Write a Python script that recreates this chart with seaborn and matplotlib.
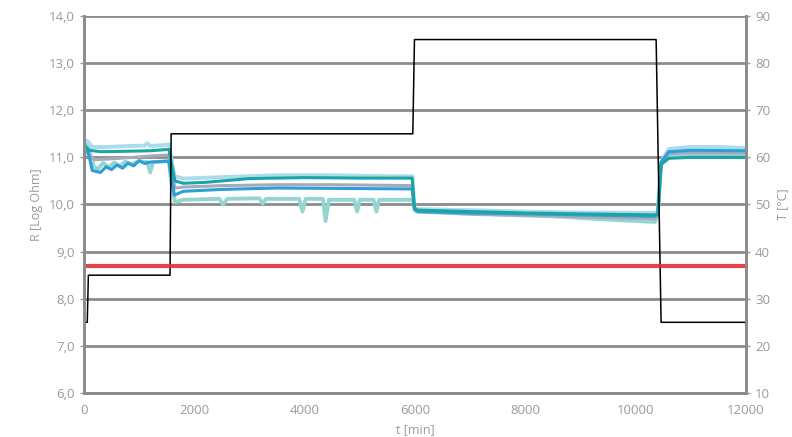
import matplotlib
matplotlib.use("Agg")
import matplotlib.pyplot as plt
import seaborn as sns

# temperature program (T in degC over t in min)
temp_t = [0, 60, 80, 1560, 1580, 5960, 5990, 10370, 10460, 12000]
temp_T = [25, 25, 35, 35, 65, 65, 85, 85, 25, 25]

# resistance curves, log Ohm
s1_t = [0, 60, 150, 400, 800, 1100, 1150, 1200, 1540, 1580, 1640, 1800, 2500, 3500, 4500, 5500, 5950,
        5990, 6050, 7000, 8000, 9000, 10350, 10400, 10460, 10600, 11000, 11500, 12000]
s1_R = [11.3, 11.35, 11.22, 11.22, 11.24, 11.25, 11.3, 11.24, 11.27, 11.0, 10.6, 10.55, 10.58, 10.62, 10.62, 10.6, 10.6,
        9.95, 9.9, 9.88, 9.85, 9.83, 9.82, 9.85, 10.9, 11.18, 11.22, 11.22, 11.2]

s2_t = [0, 100, 300, 800, 1200, 1540, 1580, 1650, 1800, 2200, 3000, 4000, 5000, 5950,
        5990, 6050, 7000, 8000, 9000, 10350, 10400, 10460, 10600, 11000, 11500, 12000]
s2_R = [11.25, 11.15, 11.12, 11.13, 11.14, 11.17, 10.9, 10.5, 10.45, 10.47, 10.55, 10.57, 10.56, 10.56,
        9.92, 9.88, 9.85, 9.82, 9.8, 9.78, 9.8, 10.85, 10.98, 11.0, 11.0, 11.0]

s3_t = [0, 80, 200, 500, 900, 1200, 1540, 1580, 1650, 1800, 2500, 3500, 4500, 5950,
        5990, 6050, 7000, 8000, 9000, 10350, 10400, 10460, 10600, 11000, 12000]
s3_R = [11.2, 11.05, 10.95, 10.97, 11.0, 11.03, 11.05, 10.8, 10.35, 10.37, 10.4, 10.42, 10.42, 10.4,
        9.88, 9.85, 9.8, 9.77, 9.74, 9.7, 9.75, 10.85, 11.08, 11.1, 11.1]

s4_t = [0, 80, 150, 300, 400, 500, 600, 700, 800, 900, 1000, 1100, 1200, 1540, 1580, 1640, 1800, 2500, 3500, 5950,
        5990, 6050, 7000, 8000, 9000, 10350, 10400, 10460, 10600, 11000, 12000]
s4_R = [11.3, 11.1, 10.72, 10.68, 10.8, 10.74, 10.84, 10.77, 10.88, 10.82, 10.93, 10.87, 10.9, 10.92, 10.6, 10.2, 10.28, 10.32, 10.35, 10.33,
        9.9, 9.85, 9.82, 9.8, 9.78, 9.75, 9.8, 10.9, 11.12, 11.15, 11.14]

s5_t = [0, 60, 180, 250, 350, 450, 550, 650, 750, 850, 1000, 1150, 1200, 1250, 1540, 1580, 1650, 1800,
        2450, 2520, 2600, 3180, 3240, 3300, 3900, 3960, 4020, 4330, 4380, 4440, 4900, 4950, 5000,
        5250, 5300, 5350, 5950, 6030, 7000, 8500, 9500, 10350, 10400, 10460, 10600, 12000]
s5_R = [11.38, 11.3, 10.8, 10.75, 10.88, 10.79, 10.89, 10.81, 10.91, 10.85, 10.92, 10.9, 10.68, 10.9, 10.92, 10.5, 10.05, 10.1,
        10.12, 10.0, 10.12, 10.13, 10.02, 10.12, 10.12, 9.85, 10.12, 10.12, 9.65, 10.1, 10.1, 9.85, 10.1,
        10.1, 9.85, 10.1, 10.1, 9.85, 9.8, 9.75, 9.68, 9.63, 9.8, 10.85, 11.02, 11.05]

limit_R = 8.7

r_ticks = [6, 7, 8, 9, 10, 11, 12, 13, 14]
r_labels = ["6,0", "7,0", "8,0", "9,0", "10,0", "11,0", "12,0", "13,0", "14,0"]
t_ticks = [10, 20, 30, 40, 50, 60, 70, 80, 90]
x_ticks = [0, 2000, 4000, 6000, 8000, 10000, 12000]

sns.set_style("white")
plt.rcParams['font.family'] = ['Open Sans', 'DejaVu Sans']
txt = "#9a9a9a"
gridc = "#8c8c8c"

fig = plt.figure(figsize=(7.92, 4.37), dpi=100)
ax = fig.add_axes([0.106, 0.1007, 0.836, 0.8627])

ax.set_axisbelow(True)
ax.grid(axis="y", color=gridc, lw=2)

kw = dict(ax=ax, sort=False, estimator=None, solid_joinstyle="round")
sns.lineplot(x=s5_t, y=s5_R, color="#94d5d2", lw=2.8, **kw)
sns.lineplot(x=s1_t, y=s1_R, color="#a9dcec", lw=2.8, **kw)
sns.lineplot(x=s3_t, y=s3_R, color="#a8a9b8", lw=2.2, **kw)
sns.lineplot(x=s4_t, y=s4_R, color="#2d9fd6", lw=2.2, **kw)
sns.lineplot(x=s2_t, y=s2_R, color="#1ba3a5", lw=2.2, **kw)

ax.set_xlim(0, 12000)
ax.set_ylim(6, 14)
ax.set_yticks(r_ticks)
ax.set_yticklabels(r_labels)
ax.set_xticks(x_ticks)
ax.set_xlabel("t [min]", color=txt, fontsize=9)
ax.set_ylabel("R [Log Ohm]", color=txt, fontsize=9)

ax2 = ax.twinx()
sns.lineplot(x=temp_t, y=temp_T, ax=ax2, color="black", lw=1.1, sort=False, estimator=None)
ax2.axhline(10 + (limit_R - 6) * 10, color="#e0303c", lw=3, alpha=0.9)
ax2.set_ylim(10, 90)
ax2.set_yticks(t_ticks)
ax2.set_ylabel("T [°C]", color=txt, fontsize=9)

for a in (ax, ax2):
    for s in a.spines.values():
        s.set_color(gridc)
        s.set_linewidth(2)
    a.spines["top"].set_visible(False)
    a.tick_params(colors=txt, labelsize=9.5, length=3, width=1, direction="out")
ax.tick_params(axis="x", pad=5)

fig.savefig("out.png", dpi=100)
